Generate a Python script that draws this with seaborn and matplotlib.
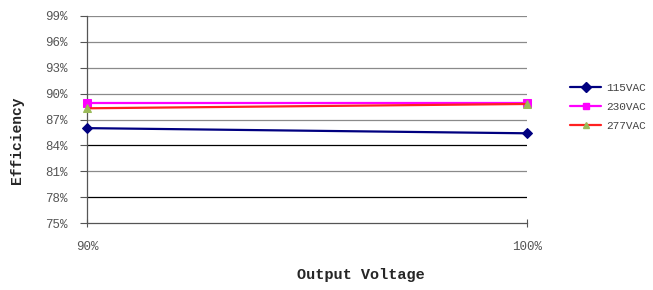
import matplotlib
matplotlib.use("Agg")
import matplotlib.pyplot as plt
import seaborn as sns
import pandas as pd

sns.set_theme(style="white")
plt.rcParams['font.family'] = ['Liberation Mono', 'DejaVu Sans']

output_voltage = [90, 100]
eff_115 = [86.0, 85.4]
eff_230 = [88.9, 88.9]
eff_277 = [88.3, 88.8]
series_names = ["115VAC", "230VAC", "277VAC"]
y_ticks = [75, 78, 81, 84, 87, 90, 93, 96, 99]
x_ticks = [90, 100]

df = pd.DataFrame({
    "Output Voltage": output_voltage * 3,
    "Efficiency": eff_115 + eff_230 + eff_277,
    "Series": [series_names[0]] * 2 + [series_names[1]] * 2 + [series_names[2]] * 2,
})

W, H = 653, 290
fig = plt.figure(figsize=(6.53, 2.90), dpi=100)
ax = fig.add_axes([87/W, 1 - 223/H, (527-87)/W, (223-16)/H])

# grid lines
for t in y_ticks[1:]:
    col = "#000000" if t in (78, 84) else "#8a8a8a"
    ax.axhline(t, color=col, lw=0.9, zorder=0)

palette = {"115VAC": "#000080", "230VAC": "#FF00FF", "277VAC": "#FF2020"}
markers = {"115VAC": "D", "230VAC": "s", "277VAC": "^"}
sns.lineplot(data=df, x="Output Voltage", y="Efficiency", hue="Series",
             style="Series", markers=markers, dashes=False, palette=palette,
             ax=ax, lw=1.6, markersize=5.5, legend=False, zorder=3)
lines = ax.get_lines()[-3:]
for ln, name in zip(lines, series_names):
    mfc = "#9BBB59" if name == "277VAC" else palette[name]
    ln.set_markerfacecolor(mfc)
    ln.set_markeredgecolor(mfc)
    ln.set_clip_on(False)

ax.set_xlim(90, 100)
ax.set_ylim(75, 99)
ax.set_yticks(y_ticks)
ax.set_yticklabels([f"{t}%" for t in y_ticks], fontsize=9, color="#555555")
ax.set_xticks(x_ticks)
ax.set_xticklabels([f"{t}%" for t in x_ticks], fontsize=9, color="#555555")
ax.tick_params(axis="y", direction="out", length=5, width=0.8, color="#555555", left=True, pad=9)
ax.tick_params(axis="x", direction="inout", length=6, width=0.8, color="#555555", bottom=True, pad=10)
for s in ["top", "right"]:
    ax.spines[s].set_visible(False)
for s in ["left", "bottom"]:
    ax.spines[s].set_color("#555555")
    ax.spines[s].set_linewidth(0.9)

ax.set_xlabel("Output Voltage", fontsize=11, fontweight="bold")
ax.set_ylabel("Efficiency", fontsize=10.5, fontweight="bold")
ax.xaxis.set_label_coords((361-87)/440, -(275-223)/207, transform=ax.transAxes)
ax.xaxis.label.set_va("center")
ax.yaxis.set_label_coords(-(87-17)/440, (223-140)/207, transform=ax.transAxes)
ax.yaxis.label.set_va("center")

from matplotlib.lines import Line2D
handles = []
for name in series_names:
    mfc = "#9BBB59" if name == "277VAC" else palette[name]
    handles.append(Line2D([0], [0], color=palette[name], lw=1.6, marker=markers[name],
                          markerfacecolor=mfc, markeredgecolor=mfc, markersize=5))
fig.legend(handles, series_names, loc="upper left", bbox_to_anchor=(560/W, 1 - 73/H),
           frameon=False, fontsize=8, handlelength=2.8, labelspacing=0.8,
           handletextpad=0.5, labelcolor="#444444")

fig.savefig("out.png", dpi=100)
